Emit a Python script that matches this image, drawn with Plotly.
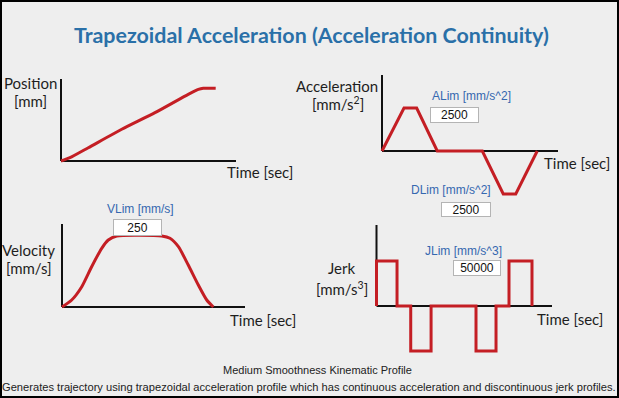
import plotly.graph_objects as go

W, H = 619, 398

# ---------------- data ----------------
# Position panel (normalised time, normalised position)
pos_t = [0.0, 0.051, 0.156, 0.347, 0.537, 0.727, 0.785, 0.813, 0.884]
pos_v = [0.0, 0.040, 0.162, 0.387, 0.589, 0.813, 0.874, 0.887, 0.887]

# Velocity panel (normalised time, mm/s)
vel_t = [0.0, 0.053, 0.108, 0.162, 0.217, 0.253, 0.299, 0.545, 0.590, 0.636, 0.690, 0.745, 0.791, 0.827]
vel_v = [0.0, 24.6, 71.5, 141.9, 206.7, 235.9, 250.0, 250.0, 241.9, 212.3, 147.9, 77.5, 24.6, 0.0]

# Acceleration panel (normalised time, mm/s^2)
acc_t = [0.0, 0.125, 0.197, 0.314, 0.570, 0.689, 0.760, 0.882]
acc_v = [0, 2500, 2500, 0, 0, -2500, -2500, 0]

# Jerk panel (normalised time, mm/s^3) - step profile
jerk_t = [0.0, 0.0, 0.117, 0.195, 0.311, 0.567, 0.681, 0.755, 0.886]
jerk_v = [0, 50000, 0, -50000, 0, -50000, 0, 50000, 0]

# limit boxes
vlim = "250"
alim = "2500"
dlim = "2500"
jlim = "50000"

# ---------------- styling ----------------
BG = "#eeeeee"
RED = "#c41e24"
AXIS = "#111111"
TITLE_BLUE = "#2a70a8"
LABEL_BLUE = "#3568b0"
LBL_FONT = "Lato"
TXT = "#1e1e1e"

fig = go.Figure()

panels = [
    dict(ox=61, oy=161, xend=236, ytop=79, yunit=1.0 / 82, bottom=166),
    dict(ox=382, oy=151, xend=558, ytop=75, yunit=2500 / 43, bottom=199),
    dict(ox=62, oy=307, xend=245, ytop=224, yunit=250 / 71, bottom=312),
    dict(ox=376.5, oy=306, xend=552, ytop=225, yunit=50000 / 45, bottom=356),
]
series = [
    (pos_t, pos_v, "spline"),
    (acc_t, acc_v, "linear"),
    (vel_t, vel_v, "spline"),
    (jerk_t, jerk_v, "hv"),
]

shapes = []
for i, (p, (tx, ty, shp)) in enumerate(zip(panels, series), start=1):
    xs = "" if i == 1 else str(i)
    sx = (p["xend"] - p["ox"])
    dpx0, dpx1 = p["ox"] - 6, p["xend"] + 4
    dpy0, dpy1 = p["ytop"] - 4, p["bottom"]
    xr = [(dpx0 - p["ox"]) / sx, (dpx1 - p["ox"]) / sx]
    yr = [(p["oy"] - dpy1) * p["yunit"], (p["oy"] - dpy0) * p["yunit"]]
    axcommon = dict(showgrid=False, zeroline=False, showticklabels=False,
                    ticks="", showline=False, fixedrange=True)
    fig.update_layout(**{
        "xaxis" + xs: dict(domain=[dpx0 / W, dpx1 / W], range=xr,
                           anchor="y" + xs, **axcommon),
        "yaxis" + xs: dict(domain=[1 - dpy1 / H, 1 - dpy0 / H], range=yr,
                           anchor="x" + xs, **axcommon),
    })
    ytop_val = (p["oy"] - p["ytop"]) * p["yunit"]
    shapes.append(dict(type="line", xref="x" + xs, yref="y" + xs, x0=0, x1=0,
                       y0=0, y1=ytop_val, layer="below",
                       line=dict(color=AXIS, width=2)))
    shapes.append(dict(type="line", xref="x" + xs, yref="y" + xs, x0=0, x1=1,
                       y0=0, y1=0, layer="below",
                       line=dict(color=AXIS, width=2)))
    fig.add_trace(go.Scatter(
        x=tx, y=ty, mode="lines", xaxis="x" + xs, yaxis="y" + xs,
        line=dict(color=RED, width=3, shape=shp,
                  **({"smoothing": 0.6} if shp == "spline" else {})),
        hoverinfo="skip", showlegend=False))

# outer border
shapes.append(dict(type="rect", xref="paper", yref="paper",
                   x0=1 / W, x1=1 - 1 / W, y0=1 / H, y1=1 - 1 / H,
                   line=dict(color="#000000", width=2), layer="above"))

annotations = []


def txt(text, x, y, size=15, color=TXT, family=LBL_FONT, **kw):
    annotations.append(dict(text=text, x=x / W, y=1 - y / H, xref="paper",
                            yref="paper", xanchor="center", yanchor="middle",
                            showarrow=False,
                            font=dict(size=size, color=color, family=family),
                            **kw))


def box(text, x, y, w, h):
    annotations.append(dict(text=text, x=x / W, y=1 - y / H, xref="paper",
                            yref="paper", xanchor="center", yanchor="middle",
                            showarrow=False, width=w - 2, height=h - 2,
                            bgcolor="#ffffff", bordercolor="#b4b4b4",
                            borderwidth=1, borderpad=0, align="center",
                            valign="middle",
                            font=dict(size=12, color="#111111",
                                      family="Liberation Sans")))


# title
txt("<b>Trapezoidal Acceleration (Acceleration Continuity)</b>", 311, 35,
    size=21.4, color=TITLE_BLUE, family="Lato")

# axis labels
txt("Position", 30.5, 83)
txt("[mm]", 30, 101)
txt("Time [sec]", 260, 172)
txt("Acceleration", 337, 86)
txt("[mm/s<sup>2</sup>]", 338, 103)
txt("Time [sec]", 577, 163)
txt("Velocity", 28, 250)
txt("[mm/s]", 28.5, 268)
txt("Time [sec]", 262.5, 320)
txt("Jerk", 341.5, 268)
txt("[mm/s<sup>3</sup>]", 341.5, 288)
txt("Time [sec]", 570, 319)

# limit labels + boxes
txt("ALim [mm/s^2]", 471, 96, size=12, color=LABEL_BLUE, family="Liberation Sans")
box(alim, 454.5, 115, 49, 16)
txt("DLim [mm/s^2]", 451, 190, size=12, color=LABEL_BLUE, family="Liberation Sans")
box(dlim, 466, 209.5, 50, 15)
txt("VLim [mm/s]", 140, 209, size=12, color=LABEL_BLUE, family="Liberation Sans")
box(vlim, 137.8, 227.3, 49, 17)
txt("JLim [mm/s^3]", 463, 250.7, size=12, color=LABEL_BLUE, family="Liberation Sans")
box(jlim, 477, 268, 48, 16)

# captions
txt("Medium Smoothness Kinematic Profile", 317, 370, size=11, color="#222222",
    family="Liberation Sans")
txt("Generates trajectory using trapezoidal acceleration profile which has "
    "continuous acceleration and discontinuous jerk profiles.", 309, 387,
    size=11.15, color="#222222", family="Liberation Sans")

fig.update_layout(width=W, height=H, margin=dict(l=0, r=0, t=0, b=0),
                  paper_bgcolor=BG, plot_bgcolor="rgba(0,0,0,0)",
                  shapes=shapes, annotations=annotations, showlegend=False)

fig.write_html("out.html", config={"displayModeBar": False},
               post_script="document.body.style.margin='0';"
                           "document.body.style.overflow='hidden';")
